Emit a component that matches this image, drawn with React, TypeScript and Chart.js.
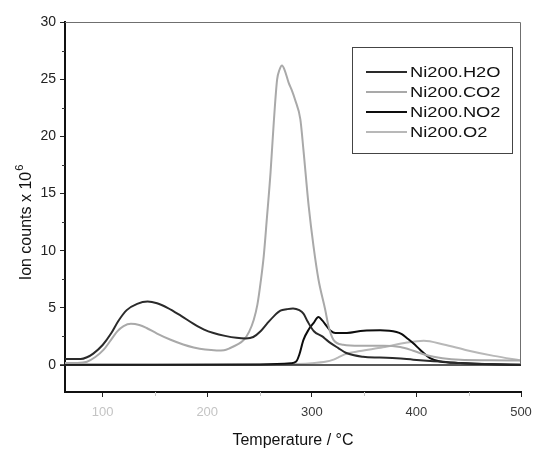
import React, { useEffect, useRef } from 'react';
import { Chart, registerables } from 'chart.js';

Chart.register(...registerables);

const seriesLabels = ['Ni200.H2O', 'Ni200.CO2', 'Ni200.NO2', 'Ni200.O2'];
const seriesColors = ['#2a2a2a', '#a9a9a9', '#0d0d0d', '#b8b8b8'];

const h2oTemp = [64, 79, 85, 91, 100, 108, 115, 123, 133, 143, 152, 162, 175, 187, 197, 206, 217, 228, 237, 244, 251, 257, 264, 270, 276, 282, 288, 292, 296, 302, 310, 314, 318, 325, 333, 349, 365, 381, 397, 410, 423, 442, 470, 500];
const h2oCounts = [0.52, 0.52, 0.68, 1.0, 1.75, 2.75, 3.85, 4.8, 5.35, 5.55, 5.4, 5.0, 4.3, 3.6, 3.1, 2.8, 2.55, 2.38, 2.33, 2.45, 2.95, 3.6, 4.3, 4.75, 4.88, 4.95, 4.8, 4.5, 3.8, 2.95, 2.5, 2.2, 1.92, 1.5, 1.05, 0.72, 0.65, 0.6, 0.47, 0.38, 0.3, 0.17, 0.08, 0.02];

const co2Temp = [64, 75, 85, 93, 101, 108, 114, 120, 127, 135, 142, 152, 165, 177, 187, 198, 209, 216, 222, 229, 235, 240, 244.5, 248, 251, 254, 257, 260.5, 263.6, 266.8, 269, 271.5, 274, 277.8, 281, 284, 289, 292, 297, 301.6, 306.4, 312.8, 316, 320.7, 330, 346, 368.5, 384.5, 397, 410, 425, 442, 470, 500];
const co2Counts = [0.17, 0.18, 0.29, 0.7, 1.34, 2.2, 2.94, 3.4, 3.6, 3.5, 3.24, 2.75, 2.21, 1.8, 1.54, 1.35, 1.28, 1.3, 1.49, 1.8, 2.21, 2.9, 3.96, 5.3, 7.2, 9.5, 12.8, 16.8, 21.2, 24.96, 25.8, 26.2, 25.8, 24.7, 24.0, 23.2, 21.5, 18.8, 13.9, 10.4, 7.46, 4.84, 3.38, 2.2, 1.78, 1.69, 1.69, 1.57, 1.25, 0.85, 0.6, 0.46, 0.42, 0.4];

const no2Temp = [64, 150, 250, 280, 285, 288, 292, 297, 301.6, 306.4, 310, 314.4, 318, 322.4, 333.5, 349.4, 365.3, 381, 386, 390.8, 397, 403.5, 413, 422.6, 442, 470, 500];
const no2Counts = [0.03, 0.03, 0.05, 0.15, 0.3, 0.9, 2.2, 3.1, 3.67, 4.2, 3.9, 3.38, 3.0, 2.8, 2.8, 3.0, 3.03, 2.89, 2.7, 2.36, 1.9, 1.34, 0.61, 0.31, 0.17, 0.06, 0.02];

const o2Temp = [64, 200, 260, 282, 300, 314, 320, 325, 333, 346, 368, 391, 407, 426, 448, 474, 500];
const o2Counts = [0.02, 0.02, 0.04, 0.08, 0.15, 0.3, 0.45, 0.65, 0.98, 1.22, 1.55, 1.97, 2.12, 1.8, 1.3, 0.8, 0.4];

const xMin = 64;
const xMax = 500;
const yMin = -2.36;
const yMax = 30;
const xMajorStep = 100;
const yMajorStep = 5;
const xMinorTicks = [150, 250, 350, 450];
const yMinorTicks = [2.5, 7.5, 12.5, 17.5, 22.5, 27.5];

const FONT = '"Liberation Sans", Arial, Helvetica, sans-serif';

function toPoints(t: number[], v: number[]) {
  return t.map((x, i) => ({ x, y: v[i] }));
}

const framePlugin = {
  id: 'framePlugin',
  afterDraw(chart: any) {
    const { ctx, chartArea, scales } = chart;
    const xs = scales.x;
    const ys = scales.y;
    const y0 = ys.getPixelForValue(0);
    ctx.save();

    // top and right frame
    ctx.strokeStyle = '#6f6f6f';
    ctx.lineWidth = 1;
    ctx.beginPath();
    ctx.moveTo(chartArea.left, chartArea.top + 0.5);
    ctx.lineTo(chartArea.right - 0.5, chartArea.top + 0.5);
    ctx.lineTo(chartArea.right - 0.5, y0);
    ctx.stroke();

    // zero line
    ctx.strokeStyle = '#222';
    ctx.lineWidth = 1.5;
    ctx.beginPath();
    ctx.moveTo(chartArea.left - 5, y0);
    ctx.lineTo(chartArea.right, y0);
    ctx.stroke();

    // minor ticks
    ctx.strokeStyle = '#333';
    ctx.lineWidth = 1;
    yMinorTicks.forEach((v) => {
      const py = Math.round(ys.getPixelForValue(v)) + 0.5;
      ctx.beginPath();
      ctx.moveTo(chartArea.left - 3, py);
      ctx.lineTo(chartArea.left, py);
      ctx.stroke();
    });
    ctx.strokeStyle = '#c8c8c8';
    xMinorTicks.forEach((v) => {
      const px = Math.round(xs.getPixelForValue(v)) + 0.5;
      ctx.beginPath();
      ctx.moveTo(px, chartArea.bottom);
      ctx.lineTo(px, chartArea.bottom + 4);
      ctx.stroke();
    });

    // legend
    const lx = chartArea.right - 169;
    const ly = chartArea.top + 25;
    const lw = 160;
    const lh = 106;
    ctx.strokeStyle = '#444';
    ctx.lineWidth = 1;
    ctx.strokeRect(lx + 0.5, ly + 0.5, lw, lh);
    chart.data.datasets.forEach((ds: any, i: number) => {
      const cy = ly + 25 + i * 20;
      ctx.strokeStyle = ds.borderColor;
      ctx.lineWidth = 2;
      ctx.beginPath();
      ctx.moveTo(lx + 14, cy);
      ctx.lineTo(lx + 55, cy);
      ctx.stroke();
      ctx.save();
      ctx.translate(lx + 58, cy);
      ctx.scale(1.22, 1);
      ctx.font = '15px ' + FONT;
      ctx.textBaseline = 'middle';
      ctx.textAlign = 'left';
      ctx.fillStyle = '#111';
      ctx.fillText(ds.label, 0, 1);
      ctx.restore();
    });

    // y title with superscript
    const main = 'Ion counts x 10';
    const sup = '6';
    ctx.save();
    const cy = (chartArea.top + chartArea.bottom) / 2 + 16;
    ctx.translate(31, cy);
    ctx.rotate(-Math.PI / 2);
    ctx.fillStyle = '#111';
    ctx.textBaseline = 'alphabetic';
    ctx.textAlign = 'left';
    ctx.font = '16px ' + FONT;
    const w1 = ctx.measureText(main).width;
    ctx.font = '11px ' + FONT;
    const w2 = ctx.measureText(sup).width;
    const start = -(w1 + w2) / 2;
    ctx.font = '16px ' + FONT;
    ctx.fillText(main, start, 0);
    ctx.font = '11px ' + FONT;
    ctx.fillText(sup, start + w1 + 1, -8);
    ctx.restore();

    ctx.restore();
  },
};

export default function App() {
  const ref = useRef<HTMLCanvasElement | null>(null);
  useEffect(() => {
    if (!ref.current) return;
    const data = [
      toPoints(h2oTemp, h2oCounts),
      toPoints(co2Temp, co2Counts),
      toPoints(no2Temp, no2Counts),
      toPoints(o2Temp, o2Counts),
    ];
    const chart = new Chart(ref.current, {
      type: 'line',
      data: {
        datasets: data.map((d, i) => ({
          label: seriesLabels[i],
          data: d,
          borderColor: seriesColors[i],
          backgroundColor: seriesColors[i],
          borderWidth: 2,
          pointRadius: 0,
          cubicInterpolationMode: 'monotone' as const,
          fill: false,
        })),
      },
      options: {
        animation: false,
        responsive: true,
        maintainAspectRatio: false,
        layout: { padding: { top: 22, right: 12, left: 0, bottom: 0 } },
        plugins: { legend: { display: false }, tooltip: { enabled: false } },
        scales: {
          x: {
            type: 'linear',
            min: xMin,
            max: xMax,
            ticks: {
              stepSize: xMajorStep,
              includeBounds: false,
              padding: 8,
              maxRotation: 0,
              font: { family: FONT, size: 13 },
              color: (c: any) => (c.tick && c.tick.value <= 200 ? '#c4c4c4' : '#3a3a3a'),
              callback: (v: any) => String(v),
            },
            grid: { drawOnChartArea: false, drawTicks: true, tickLength: 5, color: '#222' },
            border: { display: true, color: '#111', width: 2 },
            title: {
              display: true,
              text: 'Temperature / °C',
              font: { family: FONT, size: 16 },
              color: '#111',
              padding: { top: 0, bottom: 1 },
            },
            afterFit: (s: any) => {
              s.height = 59;
              s.paddingLeft = 0;
              s.paddingRight = 0;
            },
          },
          y: {
            type: 'linear',
            min: yMin,
            max: yMax,
            ticks: {
              stepSize: yMajorStep,
              includeBounds: false,
              padding: 4,
              font: { family: FONT, size: 14 },
              color: '#222',
            },
            grid: { drawOnChartArea: false, drawTicks: true, tickLength: 5, color: '#222' },
            border: { display: true, color: '#111', width: 2 },
            afterFit: (s: any) => {
              s.width = 65;
              s.paddingTop = 0;
              s.paddingBottom = 0;
            },
          },
        },
      },
      plugins: [framePlugin],
    });
    return () => chart.destroy();
  }, []);
  return (
    <div style={{ position: 'fixed', left: 0, top: 0, width: 533, height: 451, background: '#fff' }}>
      <canvas ref={ref} />
    </div>
  );
}
